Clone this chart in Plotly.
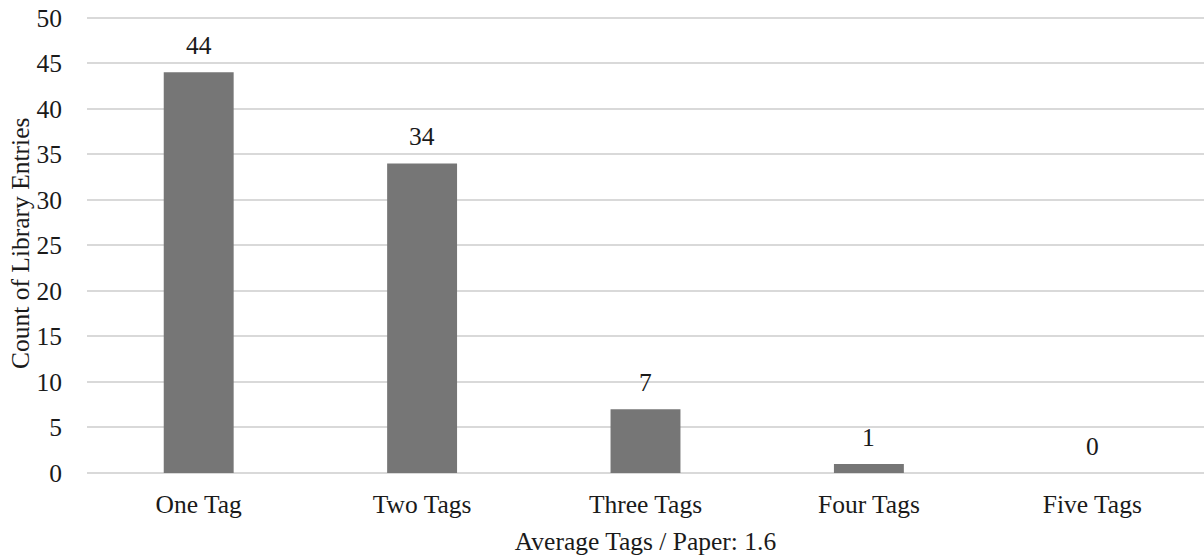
import plotly.graph_objects as go

categories = ["One Tag", "Two Tags", "Three Tags", "Four Tags", "Five Tags"]
counts = [44, 34, 7, 1, 0]
y_ticks = [0, 5, 10, 15, 20, 25, 30, 35, 40, 45, 50]

FONT = "Liberation Serif, Times New Roman, serif"
FS = 25.5
TXT = "#1a1a1a"

fig = go.Figure()
fig.add_trace(go.Bar(
    x=categories, y=counts,
    marker=dict(color="#767676", line=dict(width=0)),
    hoverinfo="skip",
))

for c, v in zip(categories, counts):
    fig.add_annotation(x=c, y=v, text=str(v), showarrow=False,
                       yanchor="bottom", yshift=10,
                       font=dict(family=FONT, size=FS, color=TXT))

# y-axis title as a rotated annotation for precise placement
fig.add_annotation(xref="paper", yref="paper", x=0, y=0.5,
                   text="Count of Library Entries", textangle=-90,
                   showarrow=False, xanchor="center", yanchor="middle",
                   xshift=-67,
                   font=dict(family=FONT, size=FS, color=TXT))

fig.update_layout(
    width=1204, height=558,
    margin=dict(l=87, r=0, t=15, b=85, autoexpand=False),
    paper_bgcolor="white", plot_bgcolor="white",
    bargap=0.687,
    showlegend=False,
    font=dict(family=FONT, size=FS, color=TXT),
    xaxis=dict(
        automargin=False,
        showgrid=False, showline=False, zeroline=False,
        ticks="", ticklabelstandoff=13,
        tickfont=dict(family=FONT, size=FS, color=TXT),
        title=dict(text="Average Tags / Paper: 1.6", standoff=14,
                   font=dict(family=FONT, size=FS, color=TXT)),
    ),
    yaxis=dict(
        automargin=False,
        range=[0, 50.3], tickvals=y_ticks,
        ticklabeloverflow="allow",
        showgrid=True, gridcolor="#d9d9d9", gridwidth=1.5,
        zeroline=True, zerolinecolor="#d9d9d9", zerolinewidth=1.5,
        showline=False, ticks="", ticklabelstandoff=24,
        tickfont=dict(family=FONT, size=FS, color=TXT),
    ),
)

# remove the browser's default 8px body margin so the figure sits at the page origin
fig.write_html("out.html",
               config={"displayModeBar": False},
               post_script="document.body.style.margin='0';document.body.style.overflow='hidden';")
